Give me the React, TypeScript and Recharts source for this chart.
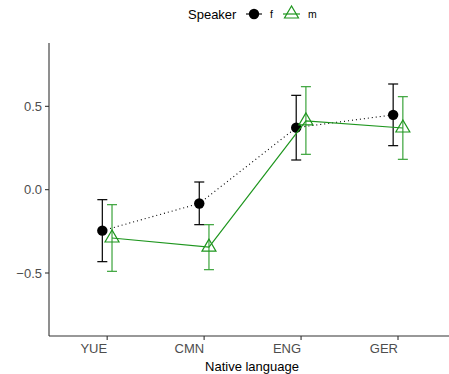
import React from 'react';
import { ScatterChart, Scatter, XAxis, YAxis, ErrorBar } from 'recharts';

const categories = ['YUE', 'CMN', 'ENG', 'GER'];
const fMean = [-0.246, -0.083, 0.372, 0.449];
const fLow = [-0.432, -0.210, 0.178, 0.264];
const fHigh = [-0.060, 0.046, 0.566, 0.634];
const mMean = [-0.290, -0.345, 0.413, 0.370];
const mLow = [-0.490, -0.480, 0.212, 0.182];
const mHigh = [-0.090, -0.210, 0.618, 0.558];
const yTicks = [-0.5, 0, 0.5];

const DODGE = 0.05;
const GREEN = '#1e961e';
const GREEN_BAR = '#3aa33a';
const FONT = '"Liberation Sans", Arial, sans-serif';

const build = (mean: number[], lo: number[], hi: number[], off: number) =>
  mean.map((m, i) => ({ x: i + 1 + off, y: m, err: [m - lo[i], hi[i] - m] }));

const fData = build(fMean, fLow, fHigh, -DODGE);
const mData = build(mMean, mLow, mHigh, DODGE);

const Dot = (p: any) => <circle cx={p.cx} cy={p.cy} r={5.2} fill="#000" />;
const Tri = (p: any) => {
  const { cx, cy } = p;
  const w = 7, h = 12;
  return (
    <polygon
      points={`${cx},${cy - (2 * h) / 3} ${cx - w},${cy + h / 3} ${cx + w},${cy + h / 3}`}
      fill="none"
      stroke={GREEN}
      strokeWidth={1.2}
    />
  );
};

const XTick = (p: any) => (
  <text x={p.x} y={p.y} dy="0.71em" textAnchor="end" fontSize={13} fill="#4d4d4d" fontFamily={FONT}>
    {categories[Math.round(p.payload.value) - 1]}
  </text>
);

const fmt = (v: number) => v.toFixed(1).replace('-', '\u2212');

export default function App() {
  return (
    <div style={{ position: 'fixed', left: 0, top: 0, width: 449, height: 374, background: '#fff', overflow: 'hidden' }}>
      <ScatterChart width={449} height={374} margin={{ top: 43, right: 0, bottom: 0, left: 0 }}>
        <XAxis
          type="number"
          dataKey="x"
          domain={[0.4, 4.526]}
          ticks={[1, 2, 3, 4]}
          allowDataOverflow
          height={38}
          tickSize={4}
          tickMargin={4}
          tick={<XTick />}
          axisLine={{ stroke: '#333', strokeWidth: 1.1 }}
          tickLine={{ stroke: '#333', strokeWidth: 1.1 }}
        />
        <YAxis
          type="number"
          dataKey="y"
          domain={[-0.878, 0.88]}
          ticks={yTicks}
          allowDataOverflow
          width={49}
          tickSize={4}
          tickMargin={3}
          tickFormatter={fmt}
          tick={{ fontSize: 13, fill: '#4d4d4d', fontFamily: FONT }}
          axisLine={{ stroke: '#333', strokeWidth: 1.1 }}
          tickLine={{ stroke: '#333', strokeWidth: 1.1 }}
        />
        <Scatter
          data={fData}
          isAnimationActive={false}
          line={{ stroke: '#000', strokeWidth: 1.1, strokeDasharray: '1 3' }}
          lineType="joint"
          shape={<Dot />}
        >
          <ErrorBar dataKey="err" direction="y" width={5} stroke="#000" strokeWidth={1.2} isAnimationActive={false} />
        </Scatter>
        <Scatter
          data={mData}
          isAnimationActive={false}
          line={{ stroke: GREEN, strokeWidth: 1.2 }}
          lineType="joint"
          shape={<Tri />}
        >
          <ErrorBar dataKey="err" direction="y" width={5} stroke={GREEN_BAR} strokeWidth={1.2} isAnimationActive={false} />
        </Scatter>
      </ScatterChart>
      <svg width={449} height={374} style={{ position: 'absolute', left: 0, top: 0, pointerEvents: 'none' }}>
        <text x={188} y={18.5} fontSize={13} fill="#000" fontFamily={FONT}>Speaker</text>
        <line x1={246} x2={262} y1={14} y2={14} stroke="#000" strokeWidth={1.1} />
        <circle cx={254} cy={14} r={5.2} fill="#000" />
        <text x={270} y={18} fontSize={10.5} fill="#000" fontFamily={FONT}>f</text>
        <line x1={283} x2={300} y1={14} y2={14} stroke={GREEN} strokeWidth={1.2} />
        <polygon points="291.5,6 284.5,18 298.5,18" fill="none" stroke={GREEN} strokeWidth={1.2} />
        <text x={308} y={18} fontSize={10.5} fill="#000" fontFamily={FONT}>m</text>
        <text x={252} y={371} textAnchor="middle" fontSize={13} fill="#000" fontFamily={FONT}>Native language</text>
      </svg>
    </div>
  );
}
